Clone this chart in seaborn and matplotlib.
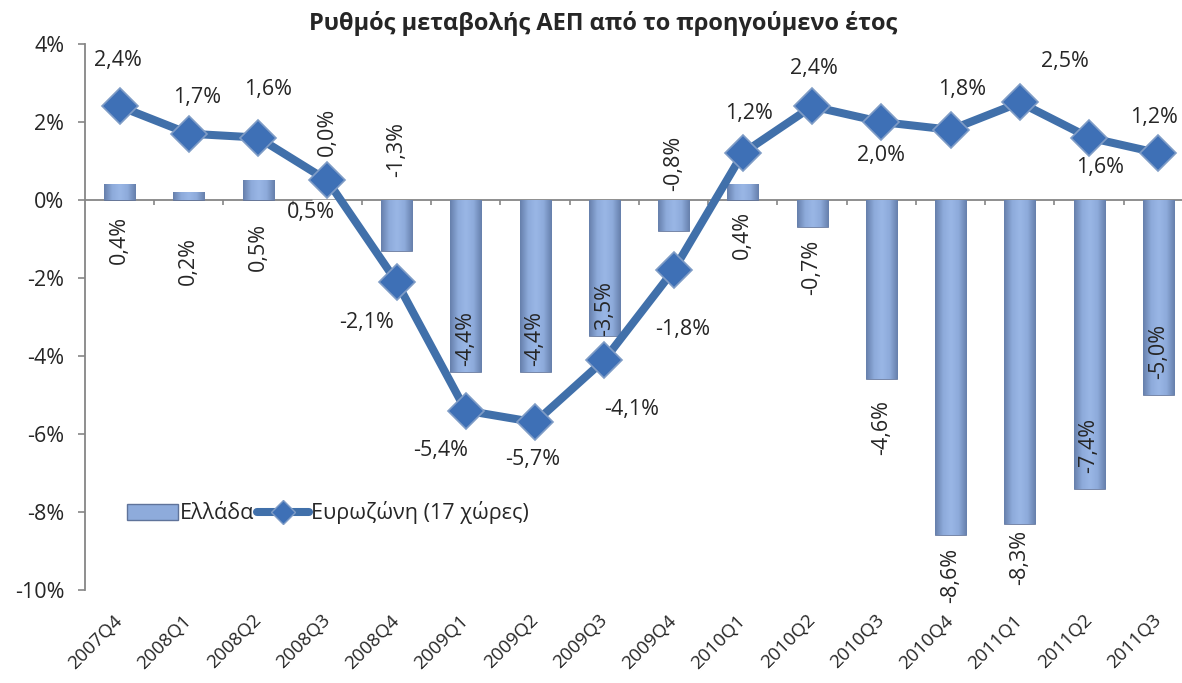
import numpy as np
import matplotlib
matplotlib.use('Agg')
import matplotlib.pyplot as plt
import seaborn as sns
from matplotlib.colors import LinearSegmentedColormap
from matplotlib.patches import Patch
from matplotlib.lines import Line2D
from matplotlib.ticker import FuncFormatter

# data (% change on previous year)
quarters = ['2007Q4', '2008Q1', '2008Q2', '2008Q3', '2008Q4', '2009Q1', '2009Q2', '2009Q3',
            '2009Q4', '2010Q1', '2010Q2', '2010Q3', '2010Q4', '2011Q1', '2011Q2', '2011Q3']
greece = [0.4, 0.2, 0.5, 0.0, -1.3, -4.4, -4.4, -3.5, -0.8, 0.4, -0.7, -4.6, -8.6, -8.3, -7.4, -5.0]
eurozone = [2.4, 1.7, 1.6, 0.5, -2.1, -5.4, -5.7, -4.1, -1.8, 1.2, 2.4, 2.0, 1.8, 2.5, 1.6, 1.2]
yticks = [-10, -8, -6, -4, -2, 0, 2, 4]

title = 'Ρυθμός μεταβολής ΑΕΠ από το προηγούμενο έτος'
greece_name = 'Ελλάδα'
euro_name = 'Ευρωζώνη (17 χώρες)'

# label offsets in points (layout only)
bar_lbl_dy = [-40, -49.6, -48, 49, 72.5, 24, 24, 20.5, 49, -36.4, -28.6, -34.3, -28.5, -24, 31.4, 31]
line_lbl_off = [(-1.5, 33), (6, 26), (7, 34.5), (-12, -23.4), (-21.6, -29.5), (-18, -28.4),
                (-1.5, -27), (19.4, -36), (6.5, -42.5), (4.3, 28.8), (1.5, 27.4), (0, -23.8),
                (8, 28.8), (32.4, 29.2), (8, -21.2), (-3, 26)]

sns.set_style('white')
plt.rcParams['font.family'] = ['Open Sans', 'DejaVu Sans']

axis_grey = '#868686'
line_col = '#4170AA'
marker_col = '#3E70B6'
bar_mid = '#8EABDB'
lbl_size = 15.5

fig = plt.figure(figsize=(11.82, 6.83), dpi=100)
ax = fig.add_axes([0.0719, 0.1362, 0.9374, 0.7994])


def pct(v):
    return f'{v:.1f}'.replace('.', ',') + '%'


sns.barplot(x=quarters, y=greece, width=0.45, color=bar_mid, ax=ax, zorder=2)

# horizontal shading on the bars
grad = LinearSegmentedColormap.from_list('bar', ['#667FAB', '#8DAADA', '#9AB7E6', '#8DAADA', '#667FAB'])
shade = np.linspace(0, 1, 64).reshape(1, -1)
for p in ax.patches:
    x0, y0 = p.get_x(), p.get_y()
    w, h = p.get_width(), p.get_height()
    if h == 0:
        continue
    im = ax.imshow(shade, cmap=grad, aspect='auto', extent=[x0, x0 + w, min(y0, y0 + h), max(y0, y0 + h)],
                   zorder=2, interpolation='bicubic')
    im.set_clip_path(p)
    p.set_facecolor('none')
    p.set_edgecolor('#5F739A')
    p.set_linewidth(0.6)

sns.pointplot(x=quarters, y=eurozone, color=line_col, markers='D', errorbar=None, ax=ax)
for ln in ax.lines:
    ln.set_linewidth(5.8)
    ln.set_markersize(18)
    ln.set_markerfacecolor(marker_col)
    ln.set_markeredgecolor('#7F9CC6')
    ln.set_markeredgewidth(1.2)
    ln.set_zorder(4)
for c in ax.collections:
    c.set_zorder(4)

ax.set_xlim(-0.5, 15.5)
ax.set_ylim(-10, 4)
ax.set_yticks(yticks)
ax.yaxis.set_major_formatter(FuncFormatter(lambda v, _: f'{int(v)}%'))

# category axis drawn at zero
ax.axhline(0, color=axis_grey, lw=1.3, zorder=1)
ax.vlines(np.arange(0.5, 15.5, 1), -0.14, 0, color=axis_grey, lw=1.2, zorder=1)

for s in ['top', 'right', 'bottom']:
    ax.spines[s].set_visible(False)
ax.spines['left'].set_color(axis_grey)
ax.spines['left'].set_linewidth(1.3)
ax.tick_params(axis='y', length=5, width=1.2, color=axis_grey, labelsize=lbl_size, pad=10, left=True)
ax.tick_params(axis='x', length=0, labelsize=13.5, pad=20)
for lab in ax.get_xticklabels():
    lab.set_rotation(45)
    lab.set_ha('right')
    lab.set_va('center')
    lab.set_rotation_mode('anchor')
ax.set_xlabel('')
ax.set_ylabel('')

# data labels
for i, v in enumerate(greece):
    ax.annotate(pct(v), (i, v), xytext=(0, bar_lbl_dy[i]), textcoords='offset points',
                rotation=90, ha='center', va='center', fontsize=lbl_size, zorder=5)
for i, v in enumerate(eurozone):
    dx, dy = line_lbl_off[i]
    ax.annotate(pct(v), (i, v), xytext=(dx, dy), textcoords='offset points',
                ha='center', va='center', fontsize=lbl_size, zorder=5, annotation_clip=False)

handles = [Patch(facecolor=bar_mid, edgecolor='#5F739A'),
           Line2D([], [], color=line_col, lw=5.8, marker='D', markersize=12,
                  markerfacecolor=marker_col, markeredgecolor='#7F9CC6')]
ax.legend(handles, [greece_name, euro_name], loc='center left', bbox_to_anchor=(0.02, 0.141),
          ncol=2, frameon=False, fontsize=lbl_size, handlelength=2.4, handletextpad=0.1,
          columnspacing=0.1, handleheight=0.8)

fig.text(603 / 1182, 1 - 24 / 683, title, ha='center', va='center', fontsize=17, fontweight='bold')

fig.savefig('out.png', dpi=100)
